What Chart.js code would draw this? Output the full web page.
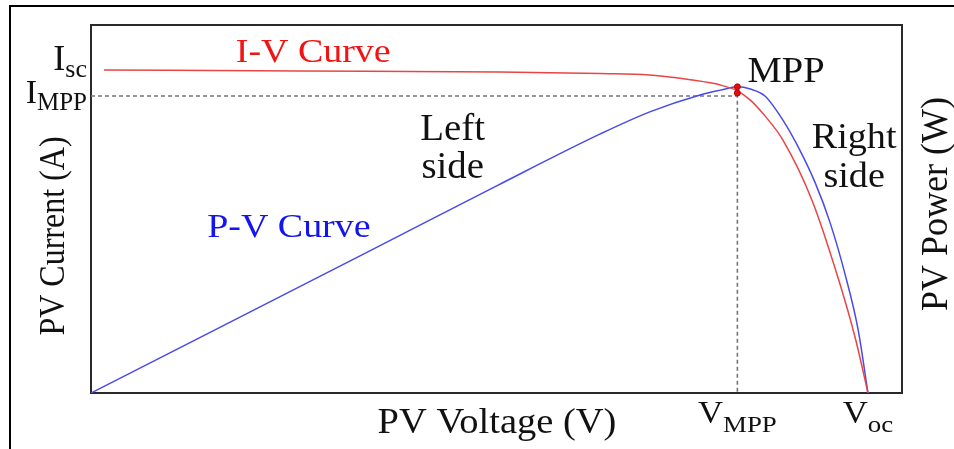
<!DOCTYPE html>
<html>
<head>
<meta charset="utf-8">
<script src="https://cdn.jsdelivr.net/npm/chart.js@4"></script>
<style>
  html, body { margin: 0; padding: 0; background: #fff; }
  #wrap { width: 954px; height: 449px; position: relative; }
</style>
</head>
<body>
<div id="wrap"><canvas id="pvChart"></canvas></div>
<script>
// normalised voltage / current / power
const ivVoltage = [0.016, 0.258, 0.504, 0.628, 0.689, 0.739, 0.776, 0.797, 0.813, 0.831, 0.853, 0.889, 0.922, 0.943, 0.958];
const ivCurrent = [0.878, 0.875, 0.872, 0.868, 0.864, 0.851, 0.837, 0.821, 0.796, 0.753, 0.688, 0.524, 0.307, 0.144, 0];

const pvVoltage = [0, 0.348, 0.502, 0.628, 0.689, 0.751, 0.776, 0.797, 0.813, 0.831, 0.853, 0.874, 0.893, 0.911, 0.930, 0.946, 0.958];
const pvPower = [0, 0.391, 0.565, 0.704, 0.764, 0.810, 0.823, 0.832, 0.826, 0.807, 0.742, 0.660, 0.571, 0.465, 0.321, 0.171, 0];

const mppVoltage = [0.797, 0.797];
const mppLevel = [0.832, 0.815];

const guideVoltage = [0, 0.797, 0.797];
const guideCurrent = [0.807, 0.807, 0];

// tick labels (main letter + subscript)
const yTickValues = [0.878, 0.807];
const yTickMain = ["I", "I"];
const yTickSub = ["sc", "MPP"];
const xTickValues = [0.797, 0.958];
const xTickMain = ["V", "V"];
const xTickSub = ["MPP", "oc"];

// notes placed in data space
const noteText = ["I-V Curve", "P-V Curve", "Left", "side", "MPP", "Right", "side"];
const noteX = [0.274, 0.244, 0.446, 0.446, 0.857, 0.941, 0.941];
const noteY = [0.899, 0.424, 0.6875, 0.584, 0.845, 0.666, 0.560];

const SERIF = '"Liberation Serif", "DejaVu Serif", serif';

function pts(xs, ys) {
  return xs.map((x, i) => ({ x: x, y: ys[i] }));
}

// draw text pieces side by side, stretched horizontally
function drawRich(ctx, parts, x, y, align, stretch) {
  let total = 0;
  parts.forEach((p) => {
    ctx.font = `${p.size}px ${SERIF}`;
    p.w = ctx.measureText(p.t).width;
    total += p.w;
  });
  total *= stretch;
  let start = x;
  if (align === "center") start = x - total / 2;
  if (align === "right") start = x - total;
  ctx.save();
  ctx.translate(start, y);
  ctx.scale(stretch, 1);
  ctx.textAlign = "left";
  ctx.textBaseline = "alphabetic";
  let cx = 0;
  parts.forEach((p) => {
    ctx.font = `${p.size}px ${SERIF}`;
    ctx.fillText(p.t, cx, p.dy || 0);
    cx += p.w;
  });
  ctx.restore();
}

// rotated title, reads bottom to top
function drawVertical(ctx, text, x, y, size, thick) {
  ctx.save();
  ctx.translate(x, y);
  ctx.rotate(-Math.PI / 2);
  ctx.scale(1, thick);
  ctx.font = `${size}px ${SERIF}`;
  ctx.textAlign = "center";
  ctx.textBaseline = "middle";
  ctx.fillText(text, 0, 0);
  ctx.restore();
}

const noteStyle = [
  { color: "#f01414", size: 33, stretch: 1.15 },
  { color: "#1414f0", size: 33, stretch: 1.15 },
  { color: "#111", size: 37, stretch: 1.05 },
  { color: "#111", size: 37, stretch: 1.05 },
  { color: "#111", size: 36, stretch: 1.07 },
  { color: "#111", size: 35, stretch: 1.09 },
  { color: "#111", size: 35, stretch: 1.09 }
];

const pvLabels = {
  id: "pvLabels",
  beforeDatasetsDraw(chart) {
    const ctx = chart.ctx;
    const a = chart.chartArea;
    ctx.save();
    // outer frame (only left and top show)
    ctx.strokeStyle = "#000";
    ctx.lineWidth = 2;
    ctx.beginPath();
    ctx.moveTo(10, 449);
    ctx.lineTo(10, 6);
    ctx.lineTo(954, 6);
    ctx.stroke();
    // plot box
    ctx.strokeStyle = "#2a2a2a";
    ctx.lineWidth = 2;
    ctx.strokeRect(a.left, a.top, a.right - a.left, a.bottom - a.top);
    ctx.restore();
  },
  afterDatasetsDraw(chart) {
    const ctx = chart.ctx;
    const xs = chart.scales.x;
    const ys = chart.scales.y;
    ctx.save();
    ctx.fillStyle = "#111";

    // y tick labels
    const yNudge = [0, 7];
    const ySizes = [[36, 26], [34, 25]];
    yTickValues.forEach((v, i) => {
      const py = ys.getPixelForValue(v) + yNudge[i];
      drawRich(ctx, [
        { t: yTickMain[i], size: ySizes[i][0] },
        { t: yTickSub[i], size: ySizes[i][1], dy: 7 }
      ], 87, py, "right", 1.0);
    });

    // x tick labels
    xTickValues.forEach((v, i) => {
      const px = xs.getPixelForValue(v);
      drawRich(ctx, [
        { t: xTickMain[i], size: 31 },
        { t: xTickSub[i], size: 24, dy: 9 }
      ], px, 423, "center", 1.12);
    });

    // axis titles
    drawRich(ctx, [{ t: "PV Voltage (V)", size: 35 }], 497, 433, "center", 1.1);
    drawVertical(ctx, "PV Current (A)", 55, 236, 32, 1.12);
    drawVertical(ctx, "PV Power (W)", 937, 204, 36, 1.05);

    // notes
    noteText.forEach((t, i) => {
      const s = noteStyle[i];
      ctx.fillStyle = s.color;
      drawRich(ctx, [{ t: t, size: s.size }],
        xs.getPixelForValue(noteX[i]), ys.getPixelForValue(noteY[i]), "center", s.stretch);
    });
    ctx.restore();
  }
};

const config = {
  type: "line",
  data: {
    datasets: [
      {
        label: "MPP",
        data: pts(mppVoltage, mppLevel),
        showLine: false,
        pointRadius: 3,
        pointBackgroundColor: "#e01010",
        pointBorderColor: "#c00000",
        pointBorderWidth: 1
      },
      {
        label: "I-V Curve",
        data: pts(ivVoltage, ivCurrent),
        borderColor: "#e84545",
        borderWidth: 1.5,
        pointRadius: 0,
        cubicInterpolationMode: "monotone"
      },
      {
        label: "P-V Curve",
        data: pts(pvVoltage, pvPower),
        borderColor: "#4a4ae8",
        borderWidth: 1.5,
        pointRadius: 0,
        cubicInterpolationMode: "monotone"
      },
      {
        label: "MPP guide",
        data: pts(guideVoltage, guideCurrent),
        borderColor: "#777",
        borderWidth: 1.6,
        borderDash: [4, 3],
        pointRadius: 0,
        tension: 0
      }
    ]
  },
  options: {
    responsive: true,
    maintainAspectRatio: false,
    animation: false,
    layout: { padding: { left: 91, top: 25, right: 52, bottom: 56 } },
    plugins: {
      legend: { display: false },
      tooltip: { enabled: false }
    },
    scales: {
      x: { type: "linear", min: 0, max: 1, display: false },
      y: { type: "linear", min: 0, max: 1, display: false }
    }
  },
  plugins: [pvLabels]
};

window.addEventListener("load", function () {
  new Chart(document.getElementById("pvChart"), config);
});
</script>
</body>
</html>
